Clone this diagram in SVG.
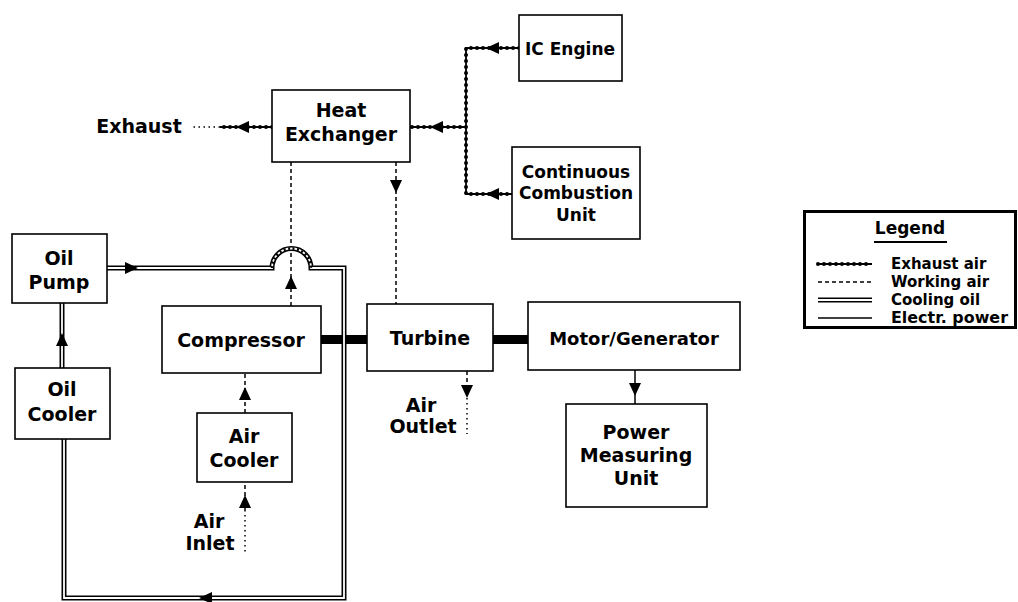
<svg xmlns="http://www.w3.org/2000/svg" xmlns:xlink="http://www.w3.org/1999/xlink" width="1018" height="602" viewBox="0 0 1018 602">
<style>
  .box{fill:#fff;stroke:#000;stroke-width:1.6}
  .t{font-family:"DejaVu Sans","Liberation Sans",sans-serif;font-weight:bold;font-size:19px;fill:#000;text-anchor:middle}
  .s{font-size:17px}
  .lt{font-family:"DejaVu Sans","Liberation Sans",sans-serif;font-weight:bold;font-size:15px;fill:#000}
  .exh{fill:none;stroke:#000;stroke-width:1.8}
  .exhd{fill:none;stroke:#000;stroke-width:4;stroke-dasharray:0 6;stroke-linecap:round}
  .work{fill:none;stroke:#000;stroke-width:1.5;stroke-dasharray:4 3}
  .dot{fill:none;stroke:#000;stroke-width:1.5;stroke-dasharray:1.5 3.5}
  .oilo{fill:none;stroke:#000;stroke-width:5}
  .oili{fill:none;stroke:#fff;stroke-width:1.8}
  .scal{fill:none;stroke:#000;stroke-width:2.5;stroke-dasharray:2 2.5}
  .elec{fill:none;stroke:#000;stroke-width:1.5}
  .shaft{fill:#000}
</style>
<defs>
  <path id="ah" d="M0,0 L-13,-6 L-13,6 Z" fill="#000"/>
</defs>
<rect width="1018" height="602" fill="#fff"/>

<g id="connectors">
  <!-- shafts -->
  <rect class="shaft" x="321" y="335" width="46" height="9"/>
  <rect class="shaft" x="493" y="335" width="35" height="9"/>

  <!-- exhaust air -->
  <path class="exh" d="M519,48 H466 V194 H512 M466,127 H410 M272,127 H220"/>
  <path class="exhd" d="M519,48 H466 V194 H512 M466,127 H410 M272,127 H220"/>
  <path class="dot" d="M220,127 H190"/>
  <use xlink:href="#ah" transform="translate(486,48) rotate(180)"/>
  <use xlink:href="#ah" transform="translate(486,194) rotate(180)"/>
  <use xlink:href="#ah" transform="translate(430,127) rotate(180)"/>
  <use xlink:href="#ah" transform="translate(236,127) rotate(180)"/>

  <!-- working air -->
  <path class="work" d="M291,162 V306"/>
  <use xlink:href="#ah" transform="translate(291,276) rotate(-90)"/>
  <path class="work" d="M396,162 V304"/>
  <use xlink:href="#ah" transform="translate(396,193) rotate(90)"/>
  <path class="work" d="M245,413 V373"/>
  <use xlink:href="#ah" transform="translate(245,387) rotate(-90)"/>
  <path class="work" d="M245,510 V482"/>
  <path class="dot" d="M245,510 V552"/>
  <use xlink:href="#ah" transform="translate(245,495) rotate(-90)"/>
  <path class="work" d="M467,371 V398"/>
  <path class="dot" d="M467,398 V434"/>
  <use xlink:href="#ah" transform="translate(467,398) rotate(90)"/>

  <!-- cooling oil -->
  <path class="oilo" d="M107,268 H272 A19.5,19.5 0 0 1 311,268 H344 V598 H64 V439"/>
  <path class="oili" d="M107,268 H272 A19.5,19.5 0 0 1 311,268 H344 V598 H64 V439"/>
  <path class="scal" d="M272,268 A19.5,19.5 0 0 1 311,268"/>
  <path class="oilo" d="M62,368 V303"/>
  <path class="oili" d="M62,368 V303"/>
  <use xlink:href="#ah" transform="translate(138,268)"/>
  <use xlink:href="#ah" transform="translate(62,333) rotate(-90)"/>
  <use xlink:href="#ah" transform="translate(199,598) rotate(180)"/>

  <!-- electric power -->
  <path class="elec" d="M635,370 V404"/>
  <use xlink:href="#ah" transform="translate(635,396) rotate(90)"/>
</g>

<g id="heat-exchanger">
  <rect class="box" x="272" y="90" width="138" height="72"/>
  <text class="t" x="341" y="117">Heat</text>
  <text class="t" x="341" y="141">Exchanger</text>
</g>
<g id="ic-engine">
  <rect class="box" x="519" y="15" width="103" height="66"/>
  <text class="t s" x="570" y="55">IC Engine</text>
</g>
<g id="ccu">
  <rect class="box" x="512" y="147" width="128" height="92"/>
  <text class="t s" x="576" y="178">Continuous</text>
  <text class="t s" x="576" y="199">Combustion</text>
  <text class="t s" x="576" y="221">Unit</text>
</g>
<g id="oil-pump">
  <rect class="box" x="12" y="234" width="95" height="69"/>
  <text class="t" x="59" y="265">Oil</text>
  <text class="t" x="59" y="289">Pump</text>
</g>
<g id="oil-cooler">
  <rect class="box" x="15" y="368" width="95" height="71"/>
  <text class="t" x="62" y="396">Oil</text>
  <text class="t" x="62" y="421">Cooler</text>
</g>
<g id="compressor">
  <rect class="box" x="162" y="306" width="159" height="67"/>
  <text class="t" x="241" y="347">Compressor</text>
</g>
<g id="turbine">
  <rect class="box" x="367" y="304" width="126" height="67"/>
  <text class="t" x="430" y="345">Turbine</text>
</g>
<g id="motor-generator">
  <rect class="box" x="528" y="302" width="212" height="68"/>
  <text class="t" x="634" y="345" style="font-size:18px">Motor/Generator</text>
</g>
<g id="power-measuring-unit">
  <rect class="box" x="566" y="404" width="141" height="103"/>
  <text class="t" x="636" y="439">Power</text>
  <text class="t" x="636" y="462">Measuring</text>
  <text class="t" x="636" y="485">Unit</text>
</g>
<g id="air-cooler">
  <rect class="box" x="197" y="413" width="95" height="69"/>
  <text class="t" x="244" y="443">Air</text>
  <text class="t" x="244" y="467">Cooler</text>
</g>
<g id="exhaust-label">
  <text class="t" x="139" y="133">Exhaust</text>
</g>
<g id="air-outlet">
  <text class="t" x="421" y="412">Air</text>
  <text class="t" x="423" y="433">Outlet</text>
</g>
<g id="air-inlet">
  <text class="t" x="209" y="528">Air</text>
  <text class="t" x="210" y="550">Inlet</text>
</g>

<g id="legend">
  <rect x="804.5" y="211.5" width="211" height="116" fill="#fff" stroke="#000" stroke-width="3"/>
  <text class="lt" x="910" y="234" text-anchor="middle" style="font-size:17px">Legend</text>
  <line x1="874" y1="242" x2="947" y2="242" stroke="#000" stroke-width="2"/>
  <path class="exh" d="M818,264 H872"/>
  <path class="exhd" d="M818,264 H872"/>
  <text class="lt" x="891" y="269">Exhaust air</text>
  <path class="work" d="M818,282 H872"/>
  <text class="lt" x="891" y="287">Working air</text>
  <path class="oilo" d="M818,300 H872"/>
  <path class="oili" d="M818,300 H872"/>
  <text class="lt" x="891" y="305">Cooling oil</text>
  <path class="elec" d="M818,318 H872"/>
  <text class="lt" x="891" y="323" textLength="117" lengthAdjust="spacingAndGlyphs">Electr. power</text>
</g>
</svg>
